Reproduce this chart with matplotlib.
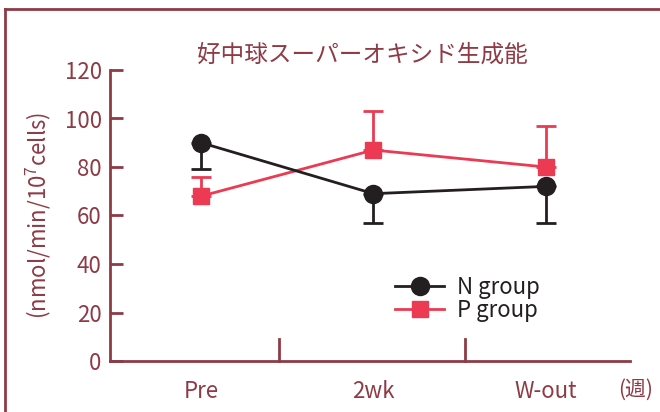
import numpy as np
import matplotlib
matplotlib.use('Agg')
import matplotlib.pyplot as plt
from matplotlib.lines import Line2D

# data
categories = ['Pre', '2wk', 'W-out']
n_mean = [90, 69, 72]
n_err = [11, 12, 15]
p_mean = [68, 87, 80]
p_err = [8, 16, 17]

maroon = '#8E3B46'
red = '#EB3A52'
black = '#231F20'

plt.rcParams['font.family'] = ['Noto Sans CJK JP', 'DejaVu Sans']
plt.rcParams['mathtext.default'] = 'regular'

fig = plt.figure(figsize=(6.6, 4.12), dpi=100)
ax = fig.add_axes([110/660, 51/412, 520/660, 291/412])

x = np.arange(len(categories))

# N group, error bars below only
ax.errorbar(x, n_mean, yerr=[n_err, [0]*3], color=black, marker='o', markersize=13,
            linewidth=2, elinewidth=2, capsize=7, capthick=2, zorder=3)
# P group, error bars above only
ax.errorbar(x, p_mean, yerr=[[0]*3, p_err], color=red, marker='s', markersize=12,
            linewidth=2, elinewidth=2, capsize=7, capthick=2, zorder=2)

ax.set_xlim(-0.53, 2.49)
ax.set_ylim(0, 120)
ax.set_yticks([0, 20, 40, 60, 80, 100, 120])
ax.set_xticks(x)
ax.set_xticklabels(categories)

for s in ['top', 'right']:
    ax.spines[s].set_visible(False)
for s in ['left', 'bottom']:
    ax.spines[s].set_color(maroon)
    ax.spines[s].set_linewidth(2)

ax.tick_params(axis='y', direction='in', length=9, width=2, color=maroon,
               labelcolor=maroon, labelsize=16, pad=6)
ax.tick_params(axis='x', length=0, labelcolor=maroon, labelsize=16, pad=14)

# separator ticks between categories
for sx in [0.45, 1.53]:
    ax.plot([sx, sx], [0, 9], color=maroon, linewidth=2, clip_on=False)

ax.set_ylabel('(nmol/min/10$^7$cells)', color=maroon, fontsize=16, labelpad=8)
fig.text(362/660, 1 - 55/412, '好中球スーパーオキシド生成能', color=maroon, fontsize=17,
         ha='center', va='center')
fig.text(636/660, 1 - 390/412, '(週)', color=maroon, fontsize=15,
         ha='center', va='center')

handles = [Line2D([], [], color=black, marker='o', markersize=13, linewidth=2),
           Line2D([], [], color=red, marker='s', markersize=12, linewidth=2)]
leg = ax.legend(handles, ['N group', 'P group'], loc='upper left',
                bbox_to_anchor=(0.51, 0.36), frameon=False,
                fontsize=16, handlelength=2.2, labelspacing=0.0, handletextpad=0.6)
for t in leg.get_texts():
    t.set_color(black)

# frame around the figure
fig.add_artist(Line2D([5/660, 5/660], [0, 1 - 9/412], color=maroon, linewidth=2))
fig.add_artist(Line2D([5/660, 1], [1 - 9/412, 1 - 9/412], color=maroon, linewidth=2))

plt.savefig('out.png', dpi=100)
